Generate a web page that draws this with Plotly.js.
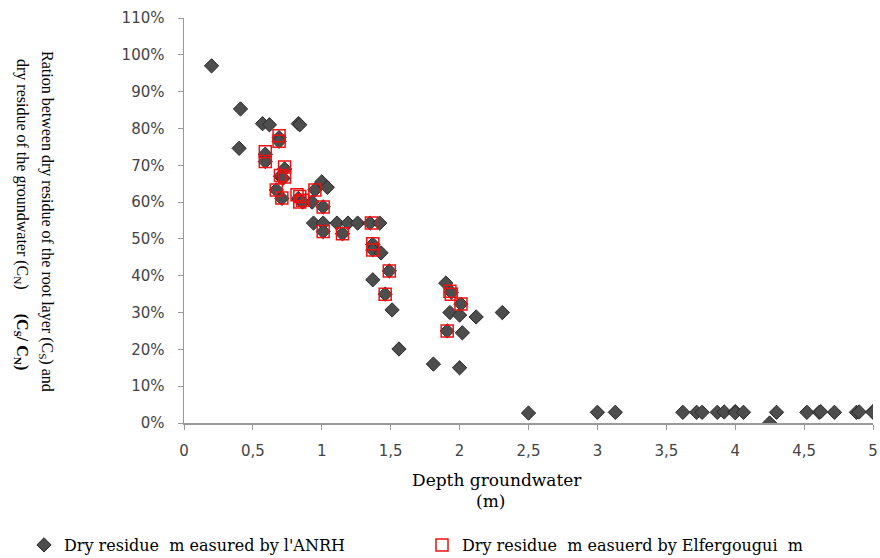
<!DOCTYPE html>
<html>
<head>
<meta charset="utf-8">
<script src="https://cdn.plot.ly/plotly-3.0.1.min.js"></script>
<style>html,body{margin:0;padding:0;background:#fff;}#chart{width:880px;height:558px;}</style>
</head>
<body>
<div id="chart"></div>
<script>
// Depth of groundwater (m) and ratio Cs/Cn — ANRH measurements
const anrhDepth = [0.20, 0.41, 0.40, 0.57, 0.62, 0.83, 0.84,
  0.69, 0.69, 0.59, 0.59, 0.73, 0.70, 0.72,
  0.67, 0.71, 0.83, 0.86, 0.93, 0.95, 1.00, 1.04, 1.01,
  0.94, 1.01, 1.11, 1.19, 1.26, 1.35, 1.42,
  1.01, 1.15, 1.37, 1.37, 1.43, 1.49, 1.37, 1.46, 1.51, 1.56, 1.81, 2.00,
  1.90, 1.94, 1.93, 2.00, 2.12, 2.31, 1.91, 2.02, 2.01,
  2.50, 3.00, 3.13, 3.62, 3.72, 3.76, 3.87, 3.92, 4.00, 4.00, 4.06, 4.25, 4.30,
  4.52, 4.61, 4.62, 4.72, 4.88, 4.90, 5.00, 5.00];
const anrhRatio = [0.97, 0.853, 0.746, 0.813, 0.81, 0.813, 0.81,
  0.775, 0.765, 0.73, 0.71, 0.69, 0.67, 0.665,
  0.633, 0.61, 0.61, 0.60, 0.60, 0.633, 0.655, 0.64, 0.587,
  0.543, 0.543, 0.543, 0.543, 0.543, 0.543, 0.543,
  0.52, 0.514, 0.485, 0.47, 0.462, 0.413, 0.389, 0.35, 0.307, 0.201, 0.16, 0.15,
  0.38, 0.355, 0.30, 0.293, 0.288, 0.30, 0.25, 0.245, 0.323,
  0.027, 0.029, 0.029, 0.029, 0.029, 0.029, 0.029, 0.03, 0.031, 0.028, 0.029, 0.0, 0.029,
  0.029, 0.029, 0.031, 0.029, 0.029, 0.03, 0.031, 0.029];

// Elfergougui measurements
const elfDepth = [0.69, 0.69, 0.59, 0.59, 0.73, 0.70, 0.73,
  0.67, 0.71, 0.82, 0.84, 0.84, 0.86, 0.95, 1.01, 1.01, 1.15,
  1.36, 1.37, 1.37, 1.49, 1.46, 1.93, 1.94, 2.01, 1.91];
const elfRatio = [0.78, 0.765, 0.737, 0.71, 0.695, 0.672, 0.668,
  0.633, 0.611, 0.62, 0.615, 0.60, 0.605, 0.633, 0.587, 0.52, 0.514,
  0.543, 0.487, 0.47, 0.413, 0.35, 0.358, 0.35, 0.323, 0.25];

const xTickVals = [0, 0.5, 1, 1.5, 2, 2.5, 3, 3.5, 4, 4.5, 5];
const xTickText = ["0", "0,5", "1", "1,5", "2", "2,5", "3", "3,5", "4", "4,5", "5"];

const seriesNames = ["Dry residue  m easured by l'ANRH", "Dry residue  m easuerd by Elfergougui  m"];
const xTitleLines = ["Depth groundwater", "(m)"];
const yTitleLines = [
  "Ration between dry residue of the root layer (C<sub>S</sub>) and",
  "dry residue of the groundwater (C<sub>N</sub>)      <b>(C<sub>S</sub>/ C<sub>N</sub>)</b>"
];

const serif = "Liberation Serif, Times New Roman, serif";
const wideSerif = "DejaVu Serif, serif";
const sans = "DejaVu Sans, Verdana, sans-serif";

const traces = [
  {
    type: "scatter", mode: "markers", name: seriesNames[0], legend: "legend",
    x: anrhDepth, y: anrhRatio,
    marker: {symbol: "diamond", size: 11, color: "#4d4d4d", line: {color: "#2a2a2a", width: 1}}
  },
  {
    type: "scatter", mode: "markers", name: seriesNames[1], legend: "legend2",
    x: elfDepth, y: elfRatio,
    marker: {symbol: "square-open", size: 12, color: "#ee1111", line: {color: "#ee1111", width: 1.5}}
  }
];

const px = v => (v - 184) / 689;   // container px -> paper x
const py = v => (423 - v) / 405;   // container px -> paper y

const legendBase = {
  orientation: "h", xref: "container", yref: "container",
  y: 13 / 558, xanchor: "left", yanchor: "middle",
  font: {family: wideSerif, size: 16, color: "#000"},
  itemwidth: 30, bgcolor: "rgba(0,0,0,0)"
};

const layout = {
  width: 880, height: 558,
  margin: {l: 184, r: 7, t: 18, b: 135},
  paper_bgcolor: "#fff", plot_bgcolor: "#fff",
  showlegend: true,
  legend: Object.assign({}, legendBase, {x: 24 / 880}),
  legend2: Object.assign({}, legendBase, {x: 422 / 880}),
  xaxis: {
    range: [0, 5], tickvals: xTickVals, ticktext: xTickText,
    showgrid: false, zeroline: false, showline: true, linecolor: "#9a9a9a", linewidth: 1.5,
    ticks: "outside", ticklen: 5, tickcolor: "#9a9a9a", ticklabelstandoff: 8,
    tickfont: {family: sans, size: 15, color: "#444"}
  },
  yaxis: {
    range: [0, 1.1], dtick: 0.1, tick0: 0, tickformat: ".0%",
    showgrid: false, zeroline: false, showline: true, linecolor: "#9a9a9a", linewidth: 1.5,
    ticks: "outside", ticklen: 5, tickcolor: "#9a9a9a", ticklabelstandoff: 10,
    tickfont: {family: sans, size: 15, color: "#444"}
  },
  annotations: [
    {xref: "paper", yref: "paper", x: px(497), y: py(480), showarrow: false,
     text: xTitleLines[0], font: {family: wideSerif, size: 17, color: "#000"}, xanchor: "center", yanchor: "middle"},
    {xref: "paper", yref: "paper", x: px(490), y: py(501), showarrow: false,
     text: xTitleLines[1], font: {family: wideSerif, size: 17, color: "#000"}, xanchor: "center", yanchor: "middle"},
    {xref: "paper", yref: "paper", x: px(47), y: py(221), showarrow: false, textangle: 90,
     text: yTitleLines[0], font: {family: serif, size: 16, color: "#000"}, xanchor: "center", yanchor: "middle"},
    {xref: "paper", yref: "paper", x: px(22), y: py(214), showarrow: false, textangle: 90,
     text: yTitleLines[1], font: {family: serif, size: 16, color: "#000"}, xanchor: "center", yanchor: "middle"}
  ]
};

Plotly.newPlot("chart", traces, layout, {displayModeBar: false, staticPlot: true});
</script>
</body>
</html>
